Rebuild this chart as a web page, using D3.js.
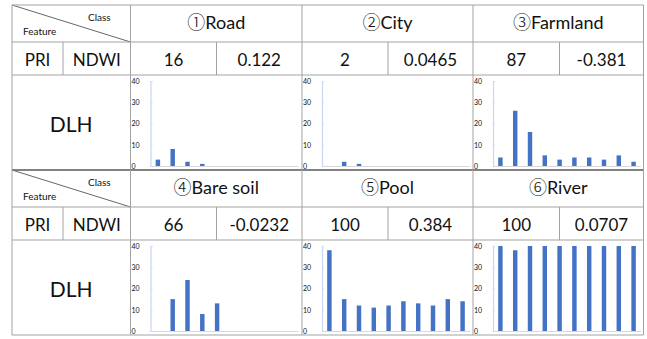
<!DOCTYPE html>
<html><head><meta charset="utf-8">
<script src="https://cdn.jsdelivr.net/npm/d3@7"></script>
<style>
html,body{margin:0;padding:0;background:#fff;}
svg{display:block;}
text{font-family:Lato,"Noto Sans CJK SC",sans-serif;fill:#111;}
</style></head>
<body>
<svg id="chart" width="647" height="339"></svg>
<script>
// ---- data ----
const classes = ["①Road", "②City", "③Farmland", "④Bare soil", "⑤Pool", "⑥River"];
const priValues = ["16", "2", "87", "66", "100", "100"];
const ndwiValues = ["0.122", "0.0465", "-0.381", "-0.0232", "0.384", "0.0707"];
const bins = ["1","2","3","4","5","6","7","8","9","10"];
const dlhRoad     = [3, 8, 2, 1, 0, 0, 0, 0, 0, 0];
const dlhCity     = [0, 2, 1, 0, 0, 0, 0, 0, 0, 0];
const dlhFarmland = [4, 26, 16, 5, 3, 4, 4, 3, 5, 2];
const dlhBareSoil = [0, 15, 24, 8, 13, 0, 0, 0, 0, 0];
const dlhPool     = [38, 15, 12, 11, 12, 14, 13, 12, 15, 14];
const dlhRiver    = [40, 38, 40, 40, 40, 40, 40, 40, 40, 40];
const dlhSeries = [dlhRoad, dlhCity, dlhFarmland, dlhBareSoil, dlhPool, dlhRiver];
const yTicks = [0, 10, 20, 30, 40];
const featureLabels = ["PRI", "NDWI", "DLH"];

// ---- layout ----
const svg = d3.select("#chart");
const colX = [12, 63, 130.5, 216.5, 302, 388, 473, 559.5, 643.5];
const blockTops = [5, 170];
const headH = 37, priH = 33, dlhH = 95;
const lineColor = "#a3a3a3";

blockTops.forEach((top, b) => {
  const yHead = top, yPri = top + headH, yDlh = top + headH + priH, yEnd = yDlh + dlhH;
  const g = svg.append("g");
  g.append("line").attr("x1", colX[0]).attr("y1", yHead).attr("x2", colX[2]).attr("y2", yPri)
    .attr("stroke", "#555").attr("stroke-width", 0.9);
  g.append("text").attr("x", 88).attr("y", yHead + 16).attr("font-size", 10).attr("fill", "#333").text("Class");
  g.append("text").attr("x", 23).attr("y", yHead + 30).attr("font-size", 10).attr("fill", "#333").text("Feature");
  g.append("text").attr("x", (colX[0] + colX[1]) / 2).attr("y", yPri + 24).attr("text-anchor", "middle")
    .attr("font-size", 17).text(featureLabels[0]);
  g.append("text").attr("x", (colX[1] + colX[2]) / 2).attr("y", yPri + 24).attr("text-anchor", "middle")
    .attr("font-size", 17).text(featureLabels[1]);
  g.append("text").attr("x", (colX[0] + colX[2]) / 2).attr("y", yDlh + 57).attr("text-anchor", "middle")
    .attr("font-size", 21).text(featureLabels[2]);

  for (let c = 0; c < 3; c++) {
    const i = b * 3 + c;
    const x0 = colX[2 + 2 * c], xm = colX[3 + 2 * c], x1 = colX[4 + 2 * c];
    const t = g.append("text").attr("x", (x0 + x1) / 2).attr("y", yHead + 24).attr("text-anchor", "middle")
      .attr("font-size", 18);
    const chars = Array.from(classes[i]);
    t.append("tspan").attr("font-family", "'Noto Sans CJK JP'").attr("font-weight", 300).text(chars[0]);
    t.append("tspan").text(chars.slice(1).join(""));
    g.append("text").attr("x", (x0 + xm) / 2).attr("y", yPri + 24).attr("text-anchor", "middle")
      .attr("font-size", 17).text(priValues[i]);
    g.append("text").attr("x", (xm + x1) / 2).attr("y", yPri + 24).attr("text-anchor", "middle")
      .attr("font-size", 17).text(ndwiValues[i]);

    const ax = x0 + 20;
    const x = d3.scaleBand().domain(bins).range([ax, ax + 148]).paddingInner(0.7).paddingOuter(0.35);
    const y = d3.scaleLinear().domain([0, 40]).range([yDlh + 91, yDlh + 6]);
    const cg = g.append("g");
    cg.append("line").attr("x1", ax).attr("x2", ax + 148).attr("y1", y(0) + 0.5).attr("y2", y(0) + 0.5)
      .attr("stroke", "#d9d9d9").attr("stroke-width", 1);
    const yAxis = d3.axisLeft(y).tickValues(yTicks).tickSize(-2).tickPadding(19);
    const ag = cg.append("g").attr("transform", `translate(${ax},0)`).call(yAxis);
    ag.select(".domain").attr("stroke", "#c9d8f0").attr("stroke-width", 1.2);
    ag.selectAll(".tick line").attr("stroke", "#c9d8f0");
    ag.selectAll(".tick text").attr("text-anchor", "start").attr("x", -19)
      .attr("font-size", 7).attr("fill", "#9a9a9a").attr("font-family", "Lato,sans-serif");
    cg.selectAll("rect.bar").data(dlhSeries[i].map((v, k) => ({k: bins[k], v})).filter(d => d.v > 0))
      .join("rect").attr("class", "bar")
      .attr("x", d => x(d.k)).attr("width", x.bandwidth())
      .attr("y", d => y(d.v)).attr("height", d => y(0) - y(d.v))
      .attr("fill", "#4472c4");
  }

  [yHead, yPri, yDlh, yEnd].forEach((yy) => {
    g.append("line").attr("x1", colX[0]).attr("x2", colX[8]).attr("y1", yy).attr("y2", yy)
      .attr("stroke", (yy === 170) ? "#7a7a7a" : lineColor).attr("stroke-width", (yy === 170) ? 1.5 : 1);
  });
  [colX[0], colX[2], colX[4], colX[6], colX[8]].forEach(xx => {
    g.append("line").attr("x1", xx).attr("x2", xx).attr("y1", yHead).attr("y2", yEnd)
      .attr("stroke", lineColor).attr("stroke-width", 1);
  });
  [colX[1], colX[3], colX[5], colX[7]].forEach(xx => {
    g.append("line").attr("x1", xx).attr("x2", xx).attr("y1", yPri).attr("y2", yDlh)
      .attr("stroke", lineColor).attr("stroke-width", 1);
  });
});
</script>
</body></html>
